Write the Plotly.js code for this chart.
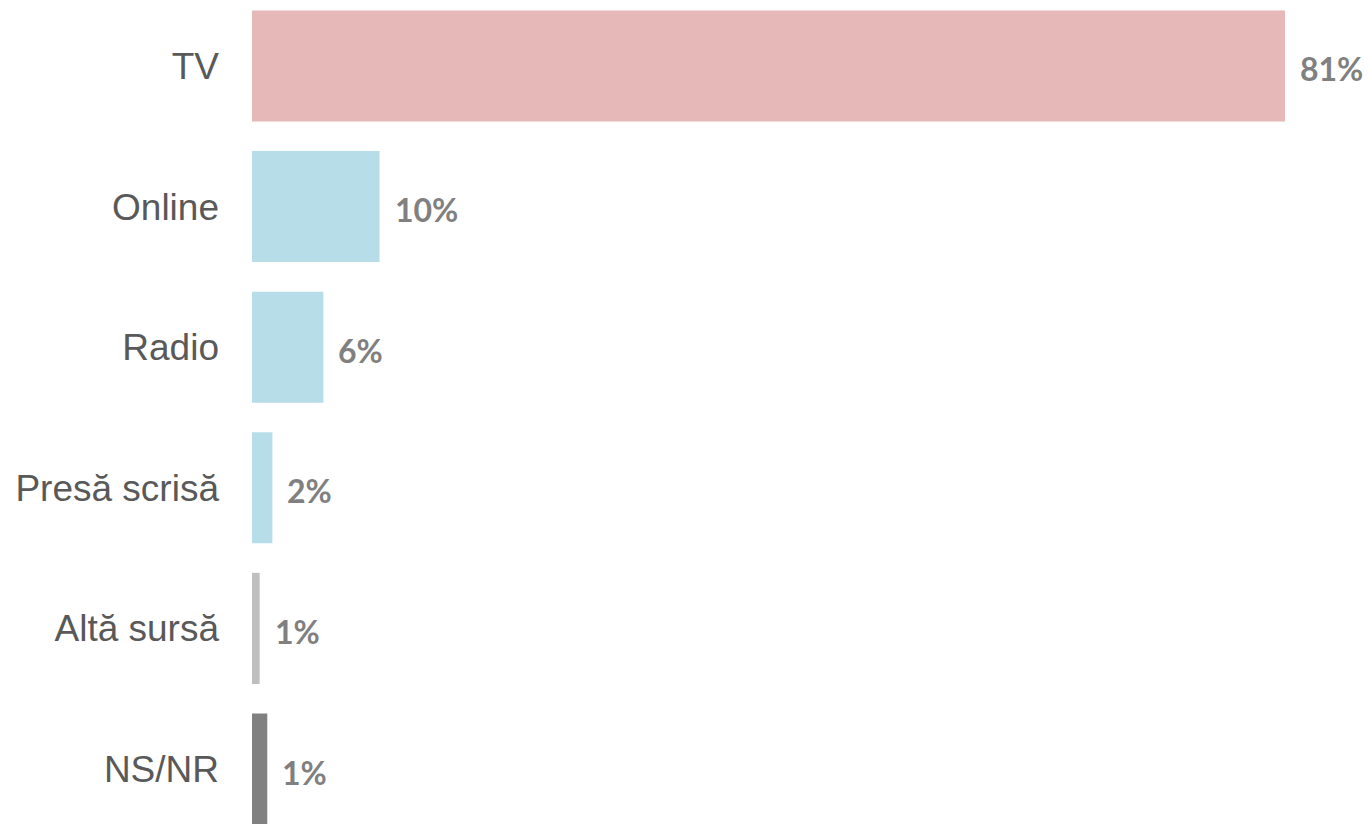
<!DOCTYPE html>
<html>
<head>
<meta charset="utf-8">
<script src="https://cdn.plot.ly/plotly-3.0.1.min.js"></script>
<style>
html, body { margin: 0; padding: 0; background: #ffffff; }
#chart { width: 1371px; height: 824px; }
</style>
</head>
<body>
<div id="chart"></div>
<script>
// Data
var categories = ["TV", "Online", "Radio", "Presă scrisă", "Altă sursă", "NS/NR"];
var values = [81, 10, 5.6, 1.6, 0.6, 1.2];
var valueLabels = ["81%", "10%", "6%", "2%", "1%", "1%"];
var barColors = ["#E6B8B7", "#B7DEE8", "#B7DEE8", "#B7DEE8", "#BFBFBF", "#808080"];

var trace = {
  type: "bar",
  orientation: "h",
  y: categories,
  x: values,
  marker: { color: barColors },
  hoverinfo: "skip"
};

var annotations = categories.map(function (c, i) {
  return {
    x: values[i],
    y: c,
    xref: "x",
    yref: "y",
    text: "<b>" + valueLabels[i] + "</b>",
    showarrow: false,
    xanchor: "left",
    yanchor: "middle",
    xshift: 13,
    yshift: -3,
    font: { family: "Lato, 'Open Sans', sans-serif", size: 32, color: "#808080" }
  };
});

var layout = {
  width: 1371,
  height: 824,
  margin: { l: 252, r: 0, t: 0, b: 0, pad: 0 },
  paper_bgcolor: "#ffffff",
  plot_bgcolor: "#ffffff",
  showlegend: false,
  bargap: 0.21,
  xaxis: {
    range: [0, 87.74],
    visible: false,
    showgrid: false,
    zeroline: false,
    fixedrange: true
  },
  yaxis: {
    type: "category",
    range: [5.391, -0.469],
    showgrid: false,
    zeroline: false,
    showline: false,
    ticks: "",
    ticklabelstandoff: 32,
    tickfont: { family: "'Liberation Sans', Arial, sans-serif", size: 37, color: "#595959" },
    fixedrange: true
  },
  annotations: annotations
};

Plotly.newPlot("chart", [trace], layout, { displayModeBar: false, staticPlot: true });
</script>
</body>
</html>
